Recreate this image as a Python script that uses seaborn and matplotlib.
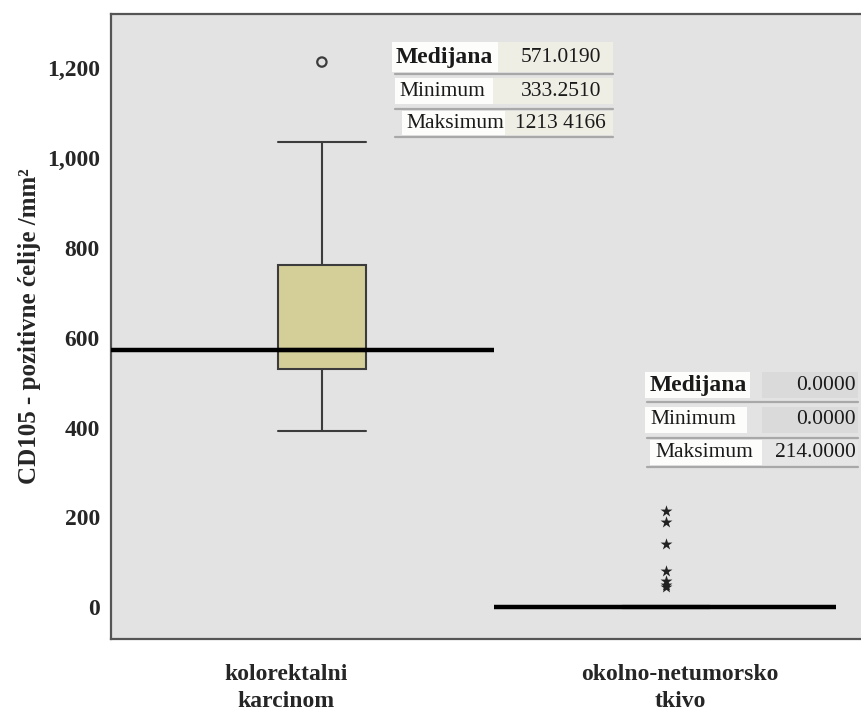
import numpy as np
import pandas as pd
import matplotlib
matplotlib.use("Agg")
import matplotlib.pyplot as plt
import matplotlib.transforms as mtransforms
from matplotlib.patches import Rectangle
from matplotlib.lines import Line2D
import seaborn as sns

# ---------------- data ----------------
categories = ["kolorektalni\nkarcinom", "okolno-netumorsko\ntkivo"]
group1_box = [392, 460, 530, 555, 572, 690, 762, 900, 1036]
group2_box = [0, 0, 0, 0, 0, 0, 0, 0, 0, 0]
group1_outliers = [1214]
group2_extremes = [214, 189, 140, 80, 58, 50, 45]
y_ticks = [0, 200, 400, 600, 800, 1000, 1200]
y_tick_labels = ["0", "200", "400", "600", "800", "1,000", "1,200"]
y_label = "CD105 - pozitivne ćelije /mm²"

table1_labels = ["Medijana", "Minimum", "Maksimum"]
table1_values = ["571.0190", "333.2510", "1213 4166"]
table2_labels = ["Medijana", "Minimum", "Maksimum"]
table2_values = ["0.0000", "0.0000", "214.0000"]

# ---------------- figure ----------------
sns.set_theme(style="white")
plt.rcParams["font.family"] = ["Liberation Serif", "DejaVu Serif"]

W, H = 862, 712
fig = plt.figure(figsize=(W / 100, H / 100), dpi=100)
fig.patch.set_facecolor("white")
ax = fig.add_axes([111 / W, 1 - 639 / H, 1 - 111 / W, (639 - 14) / H])
ax.set_facecolor("#e3e3e3")

df = pd.DataFrame({
    "grupa": [categories[0]] * len(group1_box) + [categories[1]] * len(group2_box),
    "vrijednost": group1_box + group2_box,
})

edge = "#3c3c3c"
sns.boxplot(
    data=df, x="grupa", y="vrijednost", order=categories, ax=ax,
    width=0.256, color="#d4cf98", saturation=1, showfliers=False,
    linecolor=edge, linewidth=1.5,
    medianprops=dict(color="black", linewidth=3),
    capprops=dict(color=edge, linewidth=1.5),
    whiskerprops=dict(color=edge, linewidth=1.5),
    boxprops=dict(edgecolor=edge, linewidth=1.5),
)
# enlarge whisker caps to box width
for ln in ax.lines:
    xd = np.asarray(ln.get_xdata(), dtype=float)
    yd = np.asarray(ln.get_ydata(), dtype=float)
    if len(xd) == 2 and yd[0] == yd[1] and abs(xd[1] - xd[0]) < 0.2 and abs(xd[1] - xd[0]) > 0:
        c = xd.mean()
        ln.set_xdata([c - 0.128, c + 0.128])

# extended median lines
ax.hlines(np.median(group1_box), -0.7, 0.5, color="black", linewidth=3.2, zorder=6)
ax.hlines(np.median(group2_box), 0.5, 1.494, color="black", linewidth=3.2, zorder=6)

# outliers / extremes
ax.scatter([0] * len(group1_outliers), group1_outliers, s=45, facecolors="none",
           edgecolors=edge, linewidths=1.6, zorder=7)
ax.scatter([1] * len(group2_extremes), group2_extremes, s=80, marker="*",
           color="#222222", linewidths=0, zorder=7)

ax.set_xlim(-0.613, 1.570)
ax.set_ylim(-71, 1321)
ax.set_yticks(y_ticks)
ax.set_yticklabels(y_tick_labels, fontsize=17, fontweight="bold")
ax.set_xticks([0, 1])
ax.set_xticklabels(categories, fontsize=17, fontweight="bold", linespacing=1.35)
ax.set_xlabel("")
ax.set_ylabel(y_label, fontsize=18, fontweight="bold", labelpad=4)
ax.tick_params(axis="both", which="major", length=6, width=1.5, color="#444444",
               direction="out", pad=2)
ax.tick_params(axis="x", pad=12)
for s in ["left", "bottom", "top"]:
    ax.spines[s].set_color("#555555")
    ax.spines[s].set_linewidth(1.6)
ax.spines["right"].set_visible(False)

# shift category labels like the reference
offsets = [-36, 14]
for lab, dx in zip(ax.get_xticklabels(), offsets):
    lab.set_transform(lab.get_transform() + mtransforms.ScaledTranslation(dx / 100, 0, fig.dpi_scale_trans))


# ---------------- tables ----------------
def px_rect(x0, y0, x1, y1, color):
    fig.add_artist(Rectangle((x0 / W, 1 - y1 / H), (x1 - x0) / W, (y1 - y0) / H,
                             transform=fig.transFigure, facecolor=color,
                             edgecolor="none", zorder=10))


def px_line(x0, x1, y, color="#a8a8a8", lw=1.6):
    fig.add_artist(Line2D([x0 / W, x1 / W], [1 - y / H, 1 - y / H],
                          transform=fig.transFigure, color=color, linewidth=lw, zorder=11))


def px_text(x, y, s, ha, weight="normal", size=15):
    fig.text(x / W, 1 - y / H, s, ha=ha, va="center", fontsize=size,
             fontweight=weight, color="#1a1a1a", zorder=12)


# table 1
rows1 = [(42, 72), (78, 104), (111, 135)]
lab_cells1 = [(392, 498), (395, 493), (402, 505)]
lines1 = [74, 109, 137]
val_right1 = [601, 601, 606]
for i, ((y0, y1), (lx0, lx1)) in enumerate(zip(rows1, lab_cells1)):
    px_rect(lx1, y0, 613, y1, "#efeee4")
    px_rect(lx0, y0, lx1, y1, "#fdfdfb")
    px_line(395, 613, lines1[i])
    px_text(lx0 + 4, (y0 + y1) / 2, table1_labels[i], "left",
            weight="bold" if i == 0 else "normal", size=17 if i == 0 else 15.5)
    px_text(val_right1[i], (y0 + y1) / 2, table1_values[i], "right", size=15.5)

# table 2
rows2 = [(372, 398), (407, 433), (440, 465)]
lab_cells2 = [(645, 750), (645, 747), (650, 762)]
val_cells2 = [(762, 858, "#dadada"), (762, 858, "#dadada"), (762, 858, "#e6e6e6")]
lines2 = [402, 438, 467]
for i, ((y0, y1), (lx0, lx1), (vx0, vx1, vc)) in enumerate(zip(rows2, lab_cells2, val_cells2)):
    px_rect(vx0, y0, vx1, y1, vc)
    px_rect(lx0, y0, lx1, y1, "#fdfdfb")
    px_line(647, 858, lines2[i])
    px_text(lx0 + 5, (y0 + y1) / 2, table2_labels[i], "left",
            weight="bold" if i == 0 else "normal", size=17 if i == 0 else 15.5)
    px_text(856, (y0 + y1) / 2, table2_values[i], "right", size=15.5)

fig.savefig("out.png", dpi=100)
